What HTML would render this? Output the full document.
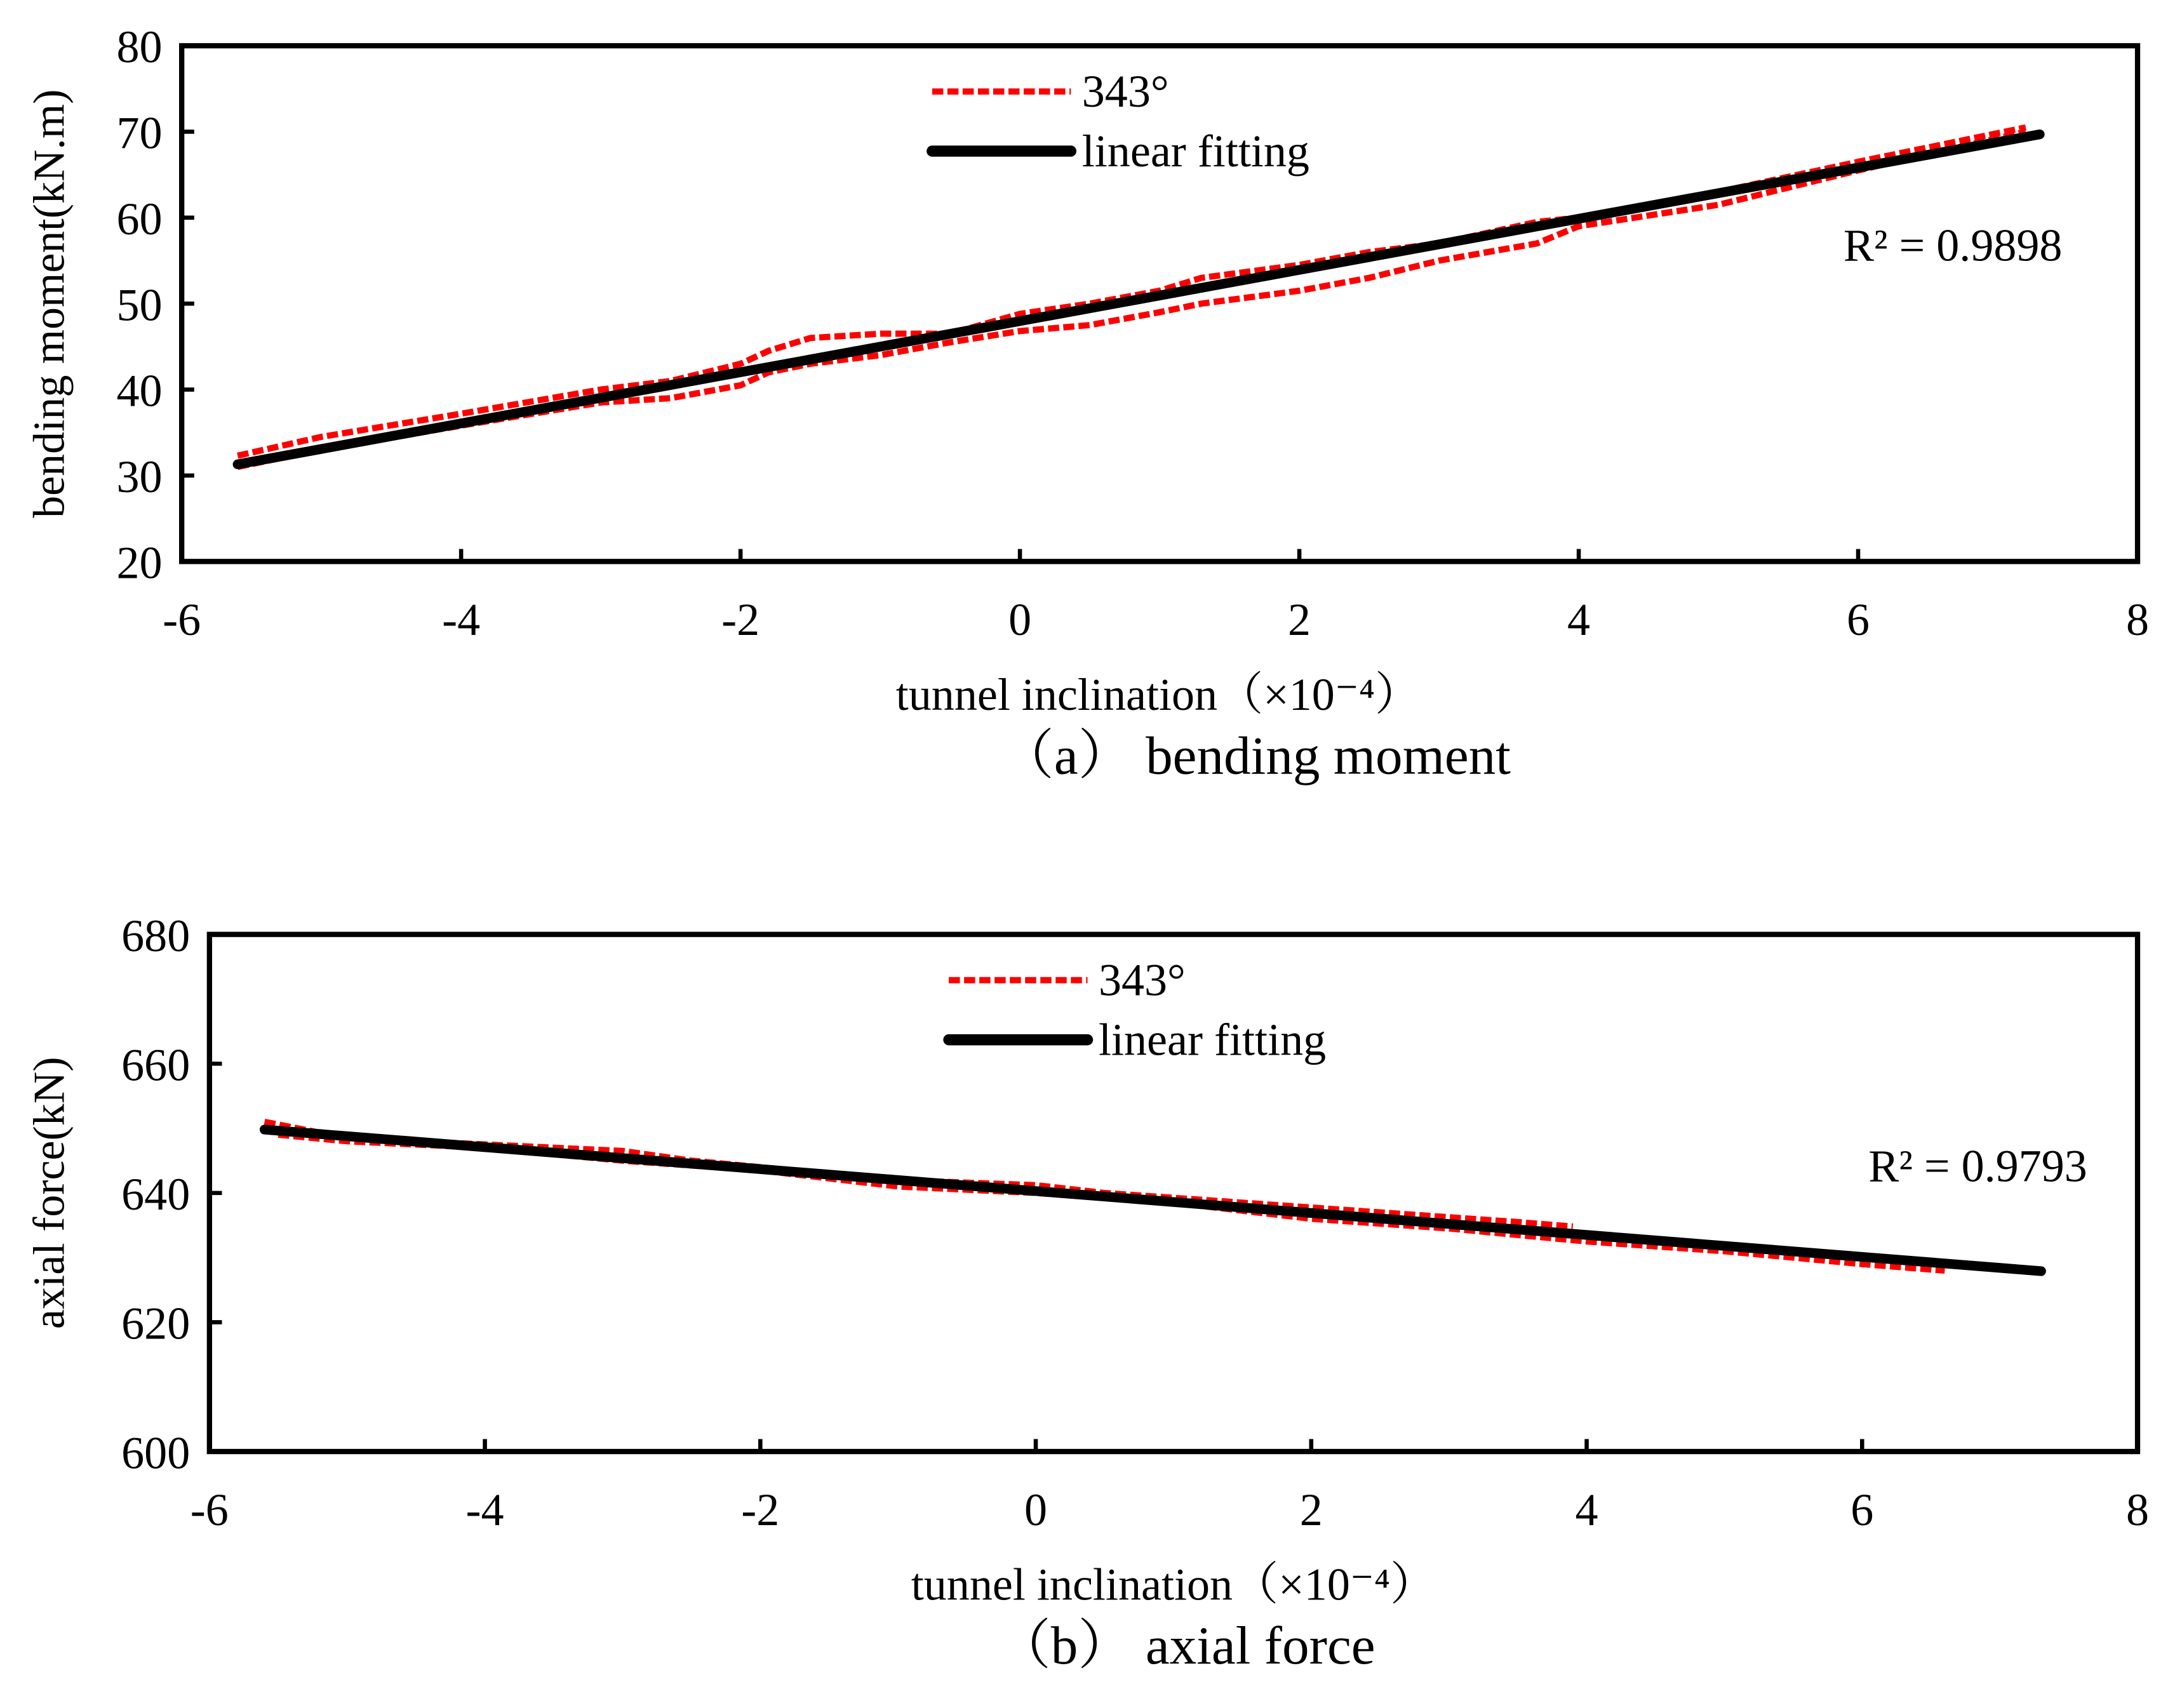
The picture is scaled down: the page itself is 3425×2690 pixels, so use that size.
<!DOCTYPE html>
<html><head><meta charset="utf-8"><style>
html,body{margin:0;padding:0;background:#fff}
svg{display:block}
text{font-family:"Liberation Serif","Noto Serif CJK SC",serif;fill:#000}
</style></head><body>
<svg id="fig" width="3425" height="2690" viewBox="0 0 1568 1232" preserveAspectRatio="none" xmlns="http://www.w3.org/2000/svg">
<g id="chartA"></g>
<g id="chartB"></g>
</svg>
<script>
const xTicks=[-6,-4,-2,0,2,4,6,8];
const aYTicks=[20,30,40,50,60,70,80];
const aUpX=[-5.6,-5,-4,-3,-2.5,-2,-1.8,-1.5,-1,-0.5,0,0.5,1,1.3,2,2.5,3,3.7,4,5,6,7.2];
const aUpY=[32.3,34.5,37.2,40,41,43,44.5,46,46.5,46.5,48.8,50,51.5,53,54.5,56,57,59.5,60,63,66.5,70.5];
const aLoX=[-5.6,-5,-4,-3,-2.5,-2,-1.8,-1.5,-1,-0.5,0,0.5,1,1.3,2,2.5,3,3.7,4,5,6,7.2];
const aLoY=[31,33,35.8,38.5,39,40.5,42,43,44,45.5,46.8,47.5,49,50,51.5,53,55,57,59,61.5,65.5,70];
const aFitX=[-5.6,7.3];
const aFitY=[31.3,69.7];
const bYTicks=[600,620,640,660,680];
const bUpX=[-5.6,-5,-4,-3,-2.5,-2,-1,0,0.5,1.5,2.5,3.5,3.9];
const bUpY=[651,648.5,647.5,646.5,645,644,642,641.2,640,638.5,637,635.5,634.8];
const bLoX=[-5.5,-5,-4,-3,-2,-1,0,1,2,3,4,5,6,6.6];
const bLoY=[649,648,647,645,643.5,641,640,638.5,636,634.5,632.5,631,629,628];
const bFitX=[-5.6,7.3];
const bFitY=[649.8,627.9];

const NS="http://www.w3.org/2000/svg";
function mk(parent,tag,attrs,txt){const e=document.createElementNS(NS,tag);for(const k in attrs)e.setAttribute(k,attrs[k]);if(txt!==undefined)e.textContent=txt;parent.appendChild(e);return e;}

function draw(g,cfg){
  const {L,R,T,B,ymin,ymax,yTicks,series,fit,ytitle,caption,r2,r2x,r2y,legX,legY,capX,xtX}=cfg;
  const sx=v=>L+(v-(-6))/(14)*(R-L);
  const sy=v=>B-(v-ymin)/(ymax-ymin)*(B-T);
  const pts=(xs,ys)=>xs.map((x,i)=>sx(x).toFixed(1)+','+sy(ys[i]).toFixed(1)).join(' ');
  series.forEach((s,i)=>{
    const p=mk(g,'polyline',{points:pts(s[0],s[1]),fill:'none',stroke:'#ff0000','stroke-width':4.5,'stroke-dasharray':'8,3','stroke-linejoin':'round'});
    
    
  });
  const f=mk(g,'polyline',{points:pts(fit[0],fit[1]),fill:'none',stroke:'#000','stroke-width':7,'stroke-linecap':'round'});
  
  
  const box=mk(g,'rect',{x:L,y:T,width:R-L,height:B-T,fill:'none',stroke:'#000','stroke-width':3.8});
  
  
  yTicks.forEach(v=>{
    const y=sy(v);
    const t=mk(g,'line',{x1:L,x2:L+9,y1:y,y2:y,stroke:'#000','stroke-width':3});
    
    
    const l=mk(g,'text',{x:L-14,y:y+12,'text-anchor':'end','font-size':33},String(v));
    
    
  });
  xTicks.forEach(v=>{
    const x=sx(v);
    const t=mk(g,'line',{x1:x,x2:x,y1:B,y2:B-9,stroke:'#000','stroke-width':3});
    
    
    const l=mk(g,'text',{x:x,y:B+53,'text-anchor':'middle','font-size':33},String(v));
    
    
  });
  const xt=mk(g,'text',{x:xtX,y:B+107,'text-anchor':'middle','font-size':33},'tunnel inclination（×10⁻⁴）');
  
  
  const cp=mk(g,'text',{x:capX,y:B+153,'text-anchor':'middle','font-size':39},caption);
  
  
  const yt=mk(g,'text',{x:0,y:0,'text-anchor':'middle','font-size':32,transform:'translate(46,'+((T+B)/2)+') rotate(-90)'},ytitle);
  
  
  const rt=mk(g,'text',{x:r2x,y:r2y,'font-size':33},r2);
  
  
  const l1=mk(g,'line',{x1:legX,x2:legX+100,y1:legY,y2:legY,stroke:'#ff0000','stroke-width':4.5,'stroke-dasharray':'8,3'});
  
  
  const t1=mk(g,'text',{x:legX+108,y:legY+11,'font-size':33},'343°');
  
  
  const l2=mk(g,'line',{x1:legX,x2:legX+100,y1:legY+43,y2:legY+43,stroke:'#000','stroke-width':8,'stroke-linecap':'round'});
  
  
  const t2=mk(g,'text',{x:legX+108,y:legY+54,'font-size':33},'linear fitting');
  
  
}
draw(document.getElementById('chartA'),{L:131,R:1541,T:33,B:405,ymin:20,ymax:80,yTicks:aYTicks,
  series:[[aUpX,aUpY],[aLoX,aLoY]],fit:[aFitX,aFitY],ytitle:'bending moment(kN.m)',caption:'（a） bending moment',
  r2:'R² = 0.9898',r2x:1329,r2y:188,legX:672,legY:66,capX:905,xtX:835});
draw(document.getElementById('chartB'),{L:151,R:1541,T:674,B:1047,ymin:600,ymax:680,yTicks:bYTicks,
  series:[[bUpX,bUpY],[bLoX,bLoY]],fit:[bFitX,bFitY],ytitle:'axial force(kN)',caption:'（b） axial force',
  r2:'R² = 0.9793',r2x:1347,r2y:852,legX:684,legY:707,capX:855,xtX:846});
</script>
</body></html>
